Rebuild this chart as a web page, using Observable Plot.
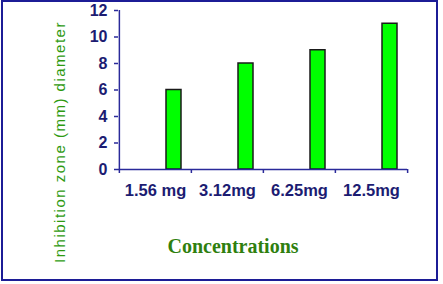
<!DOCTYPE html>
<html>
<head>
<meta charset="utf-8">
<script src="https://cdn.jsdelivr.net/npm/d3@7"></script>
<script src="https://cdn.jsdelivr.net/npm/@observablehq/plot@0.6"></script>
<style>
  html, body { margin: 0; padding: 0; background: #fff; }
  #wrap { position: relative; width: 443px; height: 284px; overflow: hidden; }
  #wrap svg { position: absolute; left: 0; top: 0; }
  #border { position: absolute; left: 1px; top: 0px; width: 433px; height: 277px; border: 2px solid #1c1c96; pointer-events: none; }
</style>
</head>
<body>
<div id="wrap"><div id="border"></div></div>
<script>
const categories = ["1.56 mg", "3.12mg", "6.25mg", "12.5mg"];
const values = [6, 8, 9, 11];
const yTicks = [0, 2, 4, 6, 8, 10, 12];
const yLabel = "Inhibition zone (mm) diameter";
const xLabel = "Concentrations";

const data = categories.map((c, i) => ({category: c, value: values[i]}));

const W = 443, H = 284, mL = 118, mR = 36, mT = 10, mB = 115;
const bw = (W - mL - mR) / categories.length;
const axisColor = "#2a2a9a";
const tickText = "#1c1c72";

const chart = Plot.plot({
  width: W, height: H,
  marginLeft: mL, marginRight: mR, marginTop: mT, marginBottom: mB,
  style: {background: "transparent", fontFamily: "Arial, 'Liberation Sans', sans-serif"},
  x: {domain: categories, padding: 0, axis: null},
  y: {domain: [0, 12], axis: null},
  marks: [
    Plot.barY(data, {x: "category", y: "value", fill: "#00ff00", stroke: "#1a1a1a", strokeWidth: 1.5, insetLeft: 47, insetRight: 10}),
    // y axis line
    Plot.ruleX(categories.slice(0, 1), {x: d => d, dx: -bw / 2, y1: 0, y2: 12, stroke: axisColor, strokeWidth: 1.5}),
    // x axis line
    Plot.ruleY([0], {stroke: axisColor, strokeWidth: 1.5}),
    // x boundary ticks
    Plot.ruleX(categories, {x: d => d, dx: -bw / 2, y1: 0, y2: 0, insetBottom: -4, stroke: axisColor, strokeWidth: 1.5}),
    Plot.ruleX(categories.slice(-1), {x: d => d, dx: bw / 2, y1: 0, y2: 0, insetBottom: -4, stroke: axisColor, strokeWidth: 1.5}),
    Plot.axisY({ticks: yTicks, tickSize: 4, tickPadding: 7, stroke: axisColor, fill: tickText, fontSize: 16, fontWeight: "bold", label: null, strokeWidth: 1.5}),
    Plot.axisX({tickSize: 0, tickPadding: 15, fill: tickText, fontSize: 16.5, fontWeight: "bold", label: null}),
    Plot.text([yLabel], {text: d => d, frameAnchor: "left", textAnchor: "middle", dx: -58, dy: 52, rotate: -90, fontSize: 15, fill: "#2e9a10"}),
    Plot.text([xLabel], {text: d => d, frameAnchor: "bottom", textAnchor: "middle", dx: -30, dy: 83, fontSize: 20, fontWeight: "bold", fontFamily: "'Liberation Serif', 'Times New Roman', serif", fill: "#2f7f0f"})
  ]
});

d3.select(chart).selectAll("text").filter(function() { return this.textContent === yLabel; }).attr("letter-spacing", "1.5px");

document.getElementById("wrap").appendChild(chart);
</script>
</body>
</html>
